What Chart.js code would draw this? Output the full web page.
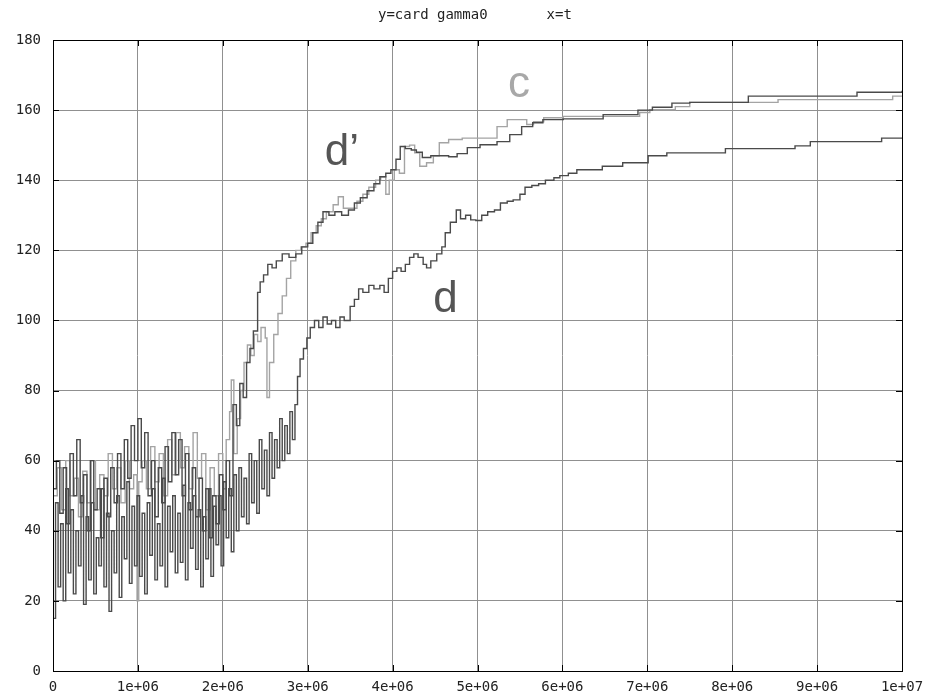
<!DOCTYPE html>
<html>
<head>
<meta charset="utf-8">
<script src="https://cdn.jsdelivr.net/npm/chart.js@4/dist/chart.umd.min.js"></script>
<style>
  html, body { margin: 0; padding: 0; background: #fff; }
  #wrap { width: 933px; height: 698px; }
</style>
</head>
<body>
<div id="wrap"><canvas id="myChart" width="933" height="698"></canvas></div>
<script>
// t in units of 1e6, value = card gamma0
const xTickLabels = ['0', '1e+06', '2e+06', '3e+06', '4e+06', '5e+06', '6e+06', '7e+06', '8e+06', '9e+06', '1e+07'];
const yTickLabels = ['0', '20', '40', '60', '80', '100', '120', '140', '160', '180'];
const titleText = 'y=card gamma0       x=t';

// lower dark curve "d"
const seriesD = [
  [0, 15], [0.03, 48], [0.06, 24], [0.09, 42], [0.12, 20], [0.15, 52], [0.18, 28], [0.21, 46], [0.24, 22], [0.27, 40],
  [0.30, 30], [0.33, 50], [0.36, 19], [0.39, 44], [0.42, 26], [0.45, 48], [0.48, 22], [0.51, 38], [0.54, 30], [0.57, 52],
  [0.60, 24], [0.63, 45], [0.66, 17], [0.69, 40], [0.72, 28], [0.75, 50], [0.78, 21], [0.81, 44], [0.84, 32], [0.87, 54],
  [0.90, 25], [0.93, 47], [0.96, 30], [0.99, 50], [1.02, 27], [1.05, 45], [1.08, 22], [1.11, 48], [1.14, 33], [1.17, 52],
  [1.20, 26], [1.23, 42], [1.26, 30], [1.29, 55], [1.32, 24], [1.35, 47], [1.38, 34], [1.41, 50], [1.44, 28], [1.47, 45],
  [1.50, 31], [1.53, 53], [1.56, 26], [1.59, 48], [1.62, 35], [1.65, 50], [1.68, 29], [1.71, 46], [1.74, 24], [1.77, 44],
  [1.80, 32], [1.83, 52], [1.86, 27], [1.89, 47], [1.92, 36], [1.95, 50], [1.98, 30], [2.01, 54], [2.04, 38], [2.07, 52],
  [2.10, 34], [2.13, 56], [2.16, 40], [2.19, 58], [2.22, 44], [2.25, 55], [2.28, 42], [2.31, 62], [2.34, 48], [2.37, 60],
  [2.40, 45], [2.43, 66], [2.46, 52], [2.49, 63], [2.52, 50], [2.55, 68], [2.58, 55], [2.61, 66], [2.64, 58], [2.67, 72],
  [2.70, 60], [2.73, 70], [2.76, 62], [2.79, 74], [2.82, 66], [2.85, 76], [2.88, 84], [2.91, 89], [2.95, 92], [2.99, 95],
  [3.03, 98], [3.08, 100], [3.13, 98], [3.18, 101], [3.23, 99], [3.28, 100], [3.33, 98], [3.38, 101], [3.43, 100], [3.50, 104],
  [3.55, 106], [3.60, 109], [3.65, 108], [3.72, 110], [3.78, 109], [3.85, 110], [3.90, 108], [3.95, 112], [4.00, 114], [4.05, 115],
  [4.10, 114], [4.15, 116], [4.20, 118], [4.25, 119], [4.30, 118], [4.36, 116], [4.40, 115], [4.45, 117], [4.52, 119], [4.58, 121],
  [4.62, 125], [4.68, 128], [4.75, 131.5], [4.80, 129], [4.86, 130], [4.92, 128.7], [4.98, 128.5], [5.05, 130], [5.12, 131], [5.20, 131.5],
  [5.27, 133.5], [5.35, 134], [5.42, 134.4], [5.50, 136], [5.56, 138], [5.64, 138.5], [5.72, 139], [5.80, 140], [5.90, 140.7], [5.97, 141.3],
  [6.07, 142], [6.17, 143], [6.47, 144], [6.71, 145], [7.01, 147], [7.23, 147.8], [7.92, 149], [8.74, 149.8], [8.92, 151], [9.76, 152],
  [10, 152]
];

// upper dark curve "d'"
const seriesDPrime = [
  [0, 52], [0.04, 60], [0.08, 45], [0.12, 58], [0.16, 42], [0.20, 62], [0.24, 50], [0.28, 66], [0.32, 48], [0.36, 56],
  [0.40, 40], [0.44, 60], [0.48, 46], [0.52, 52], [0.56, 38], [0.60, 55], [0.64, 44], [0.68, 58], [0.72, 48], [0.76, 62],
  [0.80, 52], [0.84, 66], [0.88, 55], [0.92, 70], [0.96, 60], [1.00, 72], [1.04, 58], [1.08, 68], [1.12, 50], [1.16, 60],
  [1.20, 44], [1.24, 58], [1.28, 48], [1.32, 64], [1.36, 54], [1.40, 68], [1.44, 56], [1.48, 66], [1.52, 50], [1.56, 62],
  [1.60, 46], [1.64, 58], [1.68, 44], [1.72, 55], [1.76, 40], [1.80, 52], [1.84, 38], [1.88, 50], [1.92, 42], [1.96, 56],
  [2.00, 46], [2.04, 60], [2.08, 50], [2.12, 76], [2.16, 70], [2.20, 82], [2.24, 78], [2.28, 88], [2.32, 92], [2.36, 97],
  [2.41, 108], [2.44, 111], [2.48, 113], [2.53, 116], [2.58, 115], [2.63, 117], [2.70, 119], [2.78, 118], [2.86, 119], [2.93, 121],
  [3.00, 122], [3.06, 125], [3.12, 128], [3.18, 131], [3.25, 130], [3.32, 131], [3.40, 130], [3.48, 131.5], [3.55, 133.5], [3.62, 135],
  [3.70, 137], [3.78, 139], [3.85, 141], [3.92, 142], [3.98, 143], [4.04, 146], [4.09, 149.6], [4.15, 149], [4.22, 148.6], [4.28, 148],
  [4.35, 146.5], [4.45, 147], [4.55, 147], [4.66, 146.7], [4.76, 147.6], [4.88, 149.3], [5.03, 150.1], [5.23, 151], [5.38, 153], [5.52, 155.3],
  [5.65, 156.4], [5.77, 157.3], [6.01, 157.5], [6.48, 158.7], [6.89, 160], [7.06, 160.8], [7.29, 162], [7.50, 162.2], [8.19, 164], [9.47, 165.1],
  [10, 165.5]
];

// light curve "c"
const seriesC = [
  [0, 50], [0.05, 58], [0.10, 46], [0.15, 60], [0.20, 50], [0.25, 55], [0.30, 44], [0.35, 57], [0.40, 48], [0.45, 60],
  [0.50, 46], [0.55, 56], [0.60, 50], [0.65, 62], [0.70, 52], [0.75, 58], [0.80, 48], [0.85, 60], [0.90, 52], [0.95, 56],
  [0.99, 20], [1.01, 54], [1.05, 60], [1.10, 52], [1.15, 64], [1.20, 54], [1.25, 62], [1.30, 50], [1.35, 66], [1.40, 56],
  [1.45, 68], [1.50, 58], [1.55, 64], [1.60, 52], [1.65, 68], [1.70, 55], [1.75, 62], [1.80, 46], [1.85, 58], [1.90, 50],
  [1.95, 62], [2.00, 52], [2.04, 66], [2.08, 74], [2.10, 83], [2.13, 62], [2.17, 72], [2.21, 80], [2.25, 88], [2.29, 93],
  [2.33, 90], [2.37, 96], [2.41, 94], [2.45, 98], [2.50, 95], [2.52, 78], [2.55, 88], [2.60, 96], [2.65, 102], [2.70, 107],
  [2.75, 112], [2.80, 117], [2.86, 120], [2.92, 121], [2.98, 122], [3.04, 125], [3.10, 127], [3.16, 129], [3.22, 131], [3.30, 133],
  [3.36, 135.3], [3.42, 132], [3.50, 132], [3.58, 134], [3.65, 136], [3.72, 138], [3.80, 140], [3.86, 141], [3.92, 136], [3.96, 140],
  [4.02, 143], [4.08, 142], [4.14, 149.6], [4.20, 150], [4.26, 147.8], [4.32, 144], [4.40, 145], [4.48, 147], [4.55, 150.7], [4.66, 151.6],
  [4.82, 152], [5.03, 152], [5.23, 155.3], [5.35, 157.3], [5.58, 155.9], [5.66, 156.7], [5.78, 157.8], [6.01, 158.2], [6.91, 159.3], [7.03, 160.1],
  [7.33, 161], [7.50, 162.2], [8.54, 163], [9.89, 164], [10, 164]
];

// curve names written on the plot, anchored in data coordinates
const curveNotes = [
  { text: 'd\u2019', t: 3.20, v: 144.4, color: '#555555' },
  { text: 'c', t: 5.36, v: 163.6, color: '#a8a8a8' },
  { text: 'd', t: 4.48, v: 102.4, color: '#555555' }
];

const toPoints = arr => arr.map(p => ({ x: p[0], y: p[1] }));

const monoFont = { family: 'DejaVu Sans Mono', size: 14 };

const gnuplotFrame = {
  id: 'gnuplotFrame',
  afterDraw(chart) {
    const { ctx, chartArea: a, scales } = chart;
    ctx.save();
    // box round the plot
    ctx.strokeStyle = '#000';
    ctx.lineWidth = 1;
    ctx.strokeRect(Math.round(a.left) + 0.5, Math.round(a.top) + 0.5,
      Math.round(a.right - a.left), Math.round(a.bottom - a.top));
    // inward ticks
    ctx.beginPath();
    scales.x.ticks.forEach(tk => {
      const px = Math.round(scales.x.getPixelForValue(tk.value)) + 0.5;
      ctx.moveTo(px, a.bottom); ctx.lineTo(px, a.bottom - 6);
      ctx.moveTo(px, a.top); ctx.lineTo(px, a.top + 6);
    });
    scales.y.ticks.forEach(tk => {
      const py = Math.round(scales.y.getPixelForValue(tk.value)) + 0.5;
      ctx.moveTo(a.left, py); ctx.lineTo(a.left + 6, py);
      ctx.moveTo(a.right, py); ctx.lineTo(a.right - 6, py);
    });
    ctx.stroke();
    // title
    ctx.fillStyle = '#222';
    ctx.font = '14px "DejaVu Sans Mono"';
    ctx.textAlign = 'left';
    ctx.textBaseline = 'middle';
    ctx.fillText(titleText, 378, 15);
    // curve names
    ctx.font = '44px "Liberation Sans"';
    ctx.textBaseline = 'alphabetic';
    curveNotes.forEach(n => {
      ctx.fillStyle = n.color;
      ctx.fillText(n.text, scales.x.getPixelForValue(n.t), scales.y.getPixelForValue(n.v));
    });
    ctx.restore();
  }
};

const ctx = document.getElementById('myChart').getContext('2d');
const chart = new Chart(ctx, {
  type: 'line',
  data: {
    datasets: [{
      label: 'd',
      data: toPoints(seriesD),
      borderColor: '#4a4a4a',
      borderWidth: 1.4,
      stepped: true,
      pointRadius: 0
    }, {
      label: "d'",
      data: toPoints(seriesDPrime),
      borderColor: '#4a4a4a',
      borderWidth: 1.4,
      stepped: true,
      pointRadius: 0
    }, {
      label: 'c',
      data: toPoints(seriesC),
      borderColor: '#a4a4a4',
      borderWidth: 1.4,
      stepped: true,
      pointRadius: 0
    }]
  },
  options: {
    responsive: false,
    animation: false,
    layout: { padding: { top: 40, right: 31, left: 0, bottom: 0 } },
    plugins: {
      legend: { display: false },
      tooltip: { enabled: false },
      title: { display: false }
    },
    scales: {
      x: {
        type: 'linear',
        min: 0,
        max: 10,
        afterFit: s => { s.height = 27; },
        ticks: {
          stepSize: 1,
          padding: 8,
          maxRotation: 0,
          color: '#222',
          font: monoFont,
          callback: v => xTickLabels[Math.round(v)]
        },
        grid: { color: '#909090', lineWidth: 1, drawTicks: false },
        border: { display: false }
      },
      y: {
        min: 0,
        max: 180,
        afterFit: s => { s.width = 53; },
        ticks: {
          stepSize: 20,
          padding: 12,
          color: '#222',
          font: monoFont,
          callback: v => yTickLabels[Math.round(v / 20)]
        },
        grid: { color: '#909090', lineWidth: 1, drawTicks: false },
        border: { display: false }
      }
    }
  },
  plugins: [gnuplotFrame]
});
</script>
</body>
</html>
